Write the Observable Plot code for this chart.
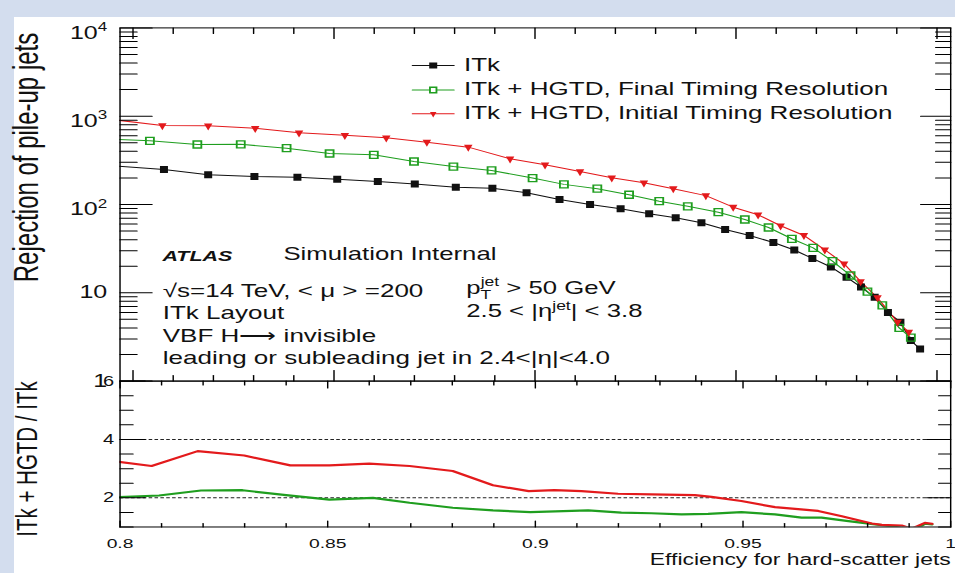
<!DOCTYPE html>
<html><head><meta charset="utf-8">
<script src="https://cdn.jsdelivr.net/npm/d3@7"></script>
<script src="https://cdn.jsdelivr.net/npm/@observablehq/plot@0.6"></script>
<style>
html,body{margin:0;padding:0;background:#d3ddee;width:955px;height:573px;overflow:hidden}
#paper{position:absolute;left:14px;top:17px;width:941px;height:556px;background:#fff}
#stage{position:absolute;left:0;top:0;height:573px;transform-origin:0 0}
#stage svg{position:absolute;left:0;overflow:visible;max-width:none}
</style></head><body>
<div id="paper"></div>
<div id="stage"></div>
<script>
// ---------------- data ----------------
const seriesNames = ["ITk", "ITk + HGTD, Final Timing Resolution", "ITk + HGTD, Initial Timing Resolution"];

const itkEff = [0.7932, 0.8077, 0.8187, 0.8302, 0.8409, 0.8508, 0.8609, 0.8701, 0.8803, 0.8894, 0.8979, 0.9061, 0.9137, 0.9213, 0.9284, 0.9350, 0.9414, 0.9473, 0.9534, 0.9593, 0.9645, 0.9690, 0.9736, 0.9775, 0.9811, 0.9845, 0.9878, 0.9909, 0.9935, 0.9958];
const itkRej = [279, 249, 217, 208, 204, 193, 182, 171, 157, 153, 136, 114, 100, 89.4, 78.5, 70.7, 62.1, 52.1, 44.6, 37.1, 30.5, 24.5, 19.6, 15.0, 11.6, 8.9, 6.0, 4.65, 2.88, 2.31];

const finalEff = [0.7932, 0.8042, 0.8160, 0.8268, 0.8382, 0.8489, 0.8599, 0.8699, 0.8797, 0.8892, 0.8994, 0.9072, 0.9155, 0.9234, 0.9309, 0.9380, 0.9456, 0.9522, 0.9581, 0.9639, 0.9692, 0.9740, 0.9785, 0.9827, 0.9864, 0.9906, 0.9935];
const finalRej = [553, 526, 478, 480, 434, 378, 365, 307, 269, 243, 199, 169, 151, 129, 109, 95.4, 81.8, 67.6, 54.9, 40.9, 32.3, 22.8, 15.7, 10.3, 7.2, 4.0, 3.1];

const initialEff = [0.7932, 0.8073, 0.8187, 0.8304, 0.8413, 0.8527, 0.8630, 0.8731, 0.8834, 0.8938, 0.9025, 0.9112, 0.9191, 0.9271, 0.9344, 0.9425, 0.9493, 0.9555, 0.9611, 0.9669, 0.9721, 0.9769, 0.9810, 0.9852, 0.9902, 0.9930];
const initialRej = [934, 785, 780, 731, 649, 609, 569, 508, 446, 329, 282, 236, 201, 176, 151, 126, 93.2, 76.4, 57.4, 44.6, 30.7, 21.3, 13.4, 8.8, 4.65, 3.6];

const ratioInitialEff = [0.7932, 0.8076, 0.8187, 0.8299, 0.8410, 0.8504, 0.8600, 0.8697, 0.8801, 0.8898, 0.8984, 0.9046, 0.9111, 0.9199, 0.9279, 0.9384, 0.9424, 0.9496, 0.9577, 0.9681, 0.9738, 0.9810, 0.9834, 0.9882, 0.9906, 0.9938, 0.9955];
const ratioInitial = [3.35, 3.09, 3.60, 3.45, 3.11, 3.11, 3.17, 3.09, 2.92, 2.43, 2.23, 2.26, 2.23, 2.14, 2.12, 2.09, 2.03, 1.89, 1.68, 1.55, 1.37, 1.12, 1.07, 1.05, 0.94, 1.14, 1.11];
const ratioFinalEff = [0.7932, 0.8094, 0.8195, 0.8295, 0.8400, 0.8504, 0.8609, 0.8697, 0.8801, 0.8898, 0.8988, 0.9127, 0.9207, 0.9279, 0.9352, 0.9416, 0.9496, 0.9577, 0.9641, 0.9689, 0.9754, 0.9818, 0.9866, 0.9898, 0.9922, 0.9938, 0.9955];
const ratioFinal = [1.98, 2.08, 2.25, 2.26, 2.09, 1.94, 2.00, 1.83, 1.66, 1.57, 1.51, 1.57, 1.49, 1.47, 1.43, 1.45, 1.51, 1.43, 1.32, 1.32, 1.20, 1.09, 1.01, 0.92, 0.97, 1.11, 1.09];

const mainYTicks = [1, 10, 100, 1000, 10000];
const mainYTickLabels = ["1", "10", "10^{2}", "10^{3}", "10^{4}"];
const ratioYTicks = [2, 4, 6];
const ratioYTickLabels = ["2", "4", "6"];
const xTicks = [0.8, 0.85, 0.9, 0.95, 1];
const xTickLabels = ["0.8", "0.85", "0.9", "0.95", "1"];
const ratioRefLines = [2, 4];

const yTitleMain = "Rejection of pile-up jets";
const yTitleRatio = "ITk + HGTD / ITk";
const xTitle = "Efficiency for hard-scatter jets";
const atlasLabel = "ATLAS";
const statusLabel = "Simulation Internal";
const infoLines = ["√s=14 TeV, < μ > =200", "ITk Layout", "VBF H⟶ invisible", "leading or subleading jet in 2.4<|η|<4.0"];
const cutLines = ["p_{T}^{jet} > 50 GeV", "2.5 < |η^{jet}| < 3.8"];

// ---------------- layout ----------------
const S = 1.43;                 // horizontal stretch of the reference picture
const W = 955 / S;
const px = v => v / S;
const FONT = "'Liberation Sans', Arial, Helvetica, sans-serif";
const RED = "#e31a1c", GREEN = "#1f9e1f", BLACK = "#111";

const mML = px(119.3), mMR = W - px(950), mMT = 27.4, mH = 392, mMB = mH - 380.6;
const rTop = 360, rH = 213, rMT = 380.6 - rTop, rMB = rH - (526.5 - rTop);

const stage = document.getElementById("stage");
stage.style.width = W + "px";
stage.style.transform = `scaleX(${S})`;

const tickShape = {draw(ctx, l) { ctx.moveTo(0, 0); ctx.lineTo(0, -l); }};
const ticksY = (values, side, len) => Plot.vector(values, {y: d => d, frameAnchor: side, rotate: side === "left" ? 90 : -90, length: len, anchor: "start", shape: tickShape, stroke: "#000", strokeWidth: 1});
const ticksX = (values, side, len) => Plot.vector(values, {x: d => d, frameAnchor: side, rotate: side === "bottom" ? 0 : 180, length: len, anchor: "start", shape: tickShape, stroke: "#000", strokeWidth: 1});
const rectSym = (w, h) => ({draw(ctx) { ctx.moveTo(-w/2, -h/2); ctx.lineTo(w/2, -h/2); ctx.lineTo(w/2, h/2); ctx.lineTo(-w/2, h/2); ctx.closePath(); }});
const triSym = (w, h) => ({draw(ctx) { ctx.moveTo(-w/2, -h/3); ctx.lineTo(w/2, -h/3); ctx.lineTo(0, 2*h/3); ctx.closePath(); }});

const xMinor = d3.range(80, 101).filter(i => i % 5 !== 0).map(i => i / 100);
const logMinor = [1, 10, 100, 1000].flatMap(d => d3.range(2, 10).map(k => d * k));
const ratioMinor = d3.range(2, 13).map(i => i / 2).filter(v => !ratioYTicks.includes(v));

const itk = itkEff.map((e, i) => ({e, v: itkRej[i]}));
const fin = finalEff.map((e, i) => ({e, v: finalRej[i]}));
const ini = initialEff.map((e, i) => ({e, v: initialRej[i]}));
const rIni = ratioInitialEff.map((e, i) => ({e, v: ratioInitial[i]}));
const rFin = ratioFinalEff.map((e, i) => ({e, v: ratioFinal[i]}));

const styles = [
  {stroke: BLACK, sym: rectSym(px(8), 7), lsym: rectSym(px(8), 6), fill: BLACK, sw: 0},
  {stroke: GREEN, sym: rectSym(px(8), 7), lsym: rectSym(px(6.5), 5.5), fill: "none", sw: 1.3},
  {stroke: RED, sym: triSym(px(8.5), 7), lsym: triSym(px(6.5), 5.5), fill: RED, sw: 0}
];
const mainData = [itk, fin, ini];

// text anchored in real pixel coordinates (vertical centre of the glyphs)
const tl = (xReal, yReal, mt, ml) => ({frameAnchor: "top-left", dx: px(xReal) - ml, dy: yReal - mt, lineAnchor: "middle"});

// ---------------- main panel ----------------
const legendRows = [65, 89.5, 113.3];
const legendMarks = seriesNames.flatMap((name, i) => [
  Plot.vector([0], {...tl(432.5, legendRows[i], mMT, mML), rotate: 90, anchor: "middle", length: px(41.6), shape: tickShape, stroke: styles[i].stroke, strokeWidth: 1}),
  Plot.dot([0], {...tl(432.5, legendRows[i], mMT, mML), symbol: styles[i].lsym, fill: styles[i].fill === "none" ? "white" : styles[i].fill, stroke: styles[i].stroke, strokeWidth: styles[i].sw || 0.01}),
  Plot.text([name], {...tl(463.3, legendRows[i] + 5.2 - 0.32 * 18, mMT, mML), textAnchor: "start", fontSize: 18.2, fill: "#111"})
]);

const main = Plot.plot({
  width: W, height: mH,
  marginLeft: mML, marginRight: mMR, marginTop: mMT, marginBottom: mMB,
  style: {fontFamily: FONT, background: "transparent", overflow: "visible"},
  x: {domain: [0.79677, 1.00341], axis: null},
  y: {type: "log", domain: [1, 10000], axis: null},
  marks: [
    ...mainData.map((d, i) => Plot.line(d, {x: "e", y: "v", stroke: styles[i].stroke, strokeWidth: 1, clip: true})),
    ...mainData.map((d, i) => Plot.dot(d, {x: "e", y: "v", symbol: styles[i].sym, fill: styles[i].fill === "none" ? "white" : styles[i].fill, fillOpacity: styles[i].fill === "none" ? 0 : 1, stroke: styles[i].stroke, strokeWidth: styles[i].sw || 0.01, clip: true})),
    Plot.frame({stroke: "#000", strokeWidth: 1}),
    ticksY(mainYTicks, "left", px(32)), ticksY(logMinor, "left", px(17)),
    ticksY(mainYTicks, "right", px(30)), ticksY(logMinor, "right", px(15)),
    ticksX(xTicks, "bottom", 10.5), ticksX(xMinor, "bottom", 5.5),
    ticksX(xTicks, "top", 10.5), ticksX(xMinor, "top", 5.5),
    Plot.text(mainYTicks.slice(0, 2), {y: d => d, text: (d, i) => mainYTickLabels[i], frameAnchor: "left", dx: px(106.5 - 119.3), textAnchor: "end", lineAnchor: "middle", fontSize: 17.5, fill: "#111"}),
    Plot.text(mainYTicks.slice(2), {y: d => d, text: (d, i) => mainYTickLabels[i + 2], frameAnchor: "left", dx: px(106.5 - 119.3), dy: 5, textAnchor: "end", lineAnchor: "middle", fontSize: 17.5, fill: "#111"}),
    Plot.text([yTitleMain], {frameAnchor: "left", dx: px(26.5) - mML, dy: 157 - (mMT + 380.6) / 2, rotate: -90, textAnchor: "middle", lineAnchor: "middle", fontSize: 24, fill: "#111"}),
    ...legendMarks,
    Plot.text([atlasLabel], {...tl(161.7, 260 - 0.32 * 15, mMT, mML), textAnchor: "start", fontSize: 15, fontWeight: "bold", fontStyle: "italic", fill: "#111"}),
    Plot.text([statusLabel], {...tl(282.7, 260 - 0.32 * 18, mMT, mML), textAnchor: "start", fontSize: 18, fill: "#111"}),
    Plot.text([infoLines.join("\n")], {...tl(162, 293.3 - 0.71 * 18, mMT, mML), textAnchor: "start", lineAnchor: "top", lineHeight: 1.235, fontSize: 18.2, fill: "#111"}),
    Plot.text([cutLines[0]], {...tl(465.5, 293.3 - 0.32 * 18, mMT, mML), textAnchor: "start", fontSize: 18, fill: "#111"}),
    Plot.text([cutLines[1]], {...tl(465.5, 316.7 - 0.32 * 18, mMT, mML), textAnchor: "start", fontSize: 18, fill: "#111"})
  ]
});
main.style.top = "0px";
stage.appendChild(main);

// ---------------- ratio panel ----------------
const ratio = Plot.plot({
  width: W, height: rH,
  marginLeft: mML, marginRight: mMR, marginTop: rMT, marginBottom: rMB,
  style: {fontFamily: FONT, background: "transparent", overflow: "visible"},
  x: {domain: [0.8, 1.0], axis: null},
  y: {domain: [1, 6], axis: null},
  marks: [
    Plot.ruleY(ratioRefLines, {stroke: "#222", strokeWidth: 1, strokeDasharray: "2.5,1.6"}),
    Plot.line(rFin, {x: "e", y: "v", stroke: GREEN, strokeWidth: 2.2, clip: true}),
    Plot.line(rIni, {x: "e", y: "v", stroke: RED, strokeWidth: 2.2, clip: true}),
    Plot.frame({stroke: "#000", strokeWidth: 1}),
    ticksY(ratioYTicks, "left", px(25)), ticksY(ratioMinor, "left", px(13)),
    ticksY(ratioYTicks, "right", px(24)), ticksY(ratioMinor, "right", px(12)),
    ticksX(xTicks, "top", 7), ticksX(xMinor, "top", 4),
    ticksX(xTicks, "bottom", 6), ticksX(xMinor, "bottom", 3.5),
    Plot.text(ratioYTicks, {y: d => d, text: (d, i) => ratioYTickLabels[i], frameAnchor: "left", dx: px(113.3 - 119.3), textAnchor: "end", lineAnchor: "middle", fontSize: 14, fill: "#111"}),
    Plot.text(xTicks, {x: d => d, text: (d, i) => xTickLabels[i], frameAnchor: "bottom", dy: 16.5, textAnchor: "middle", lineAnchor: "middle", fontSize: 13.5, fill: "#111"}),
    Plot.text([xTitle], {frameAnchor: "bottom-right", dy: 565 - 0.32 * 16 - 526.5, textAnchor: "end", lineAnchor: "middle", fontSize: 16, fill: "#111"}),
    Plot.text([yTitleRatio], {frameAnchor: "left", dx: px(27.3) - mML, dy: 458.5 - rTop - (rMT + (526.5 - rTop)) / 2, rotate: -90, textAnchor: "middle", lineAnchor: "middle", fontSize: 20.5, fill: "#111"})
  ]
});
ratio.style.top = rTop + "px";
stage.appendChild(ratio);

// ---------------- rich text (super/subscripts) ----------------
function richify(root) {
  root.querySelectorAll("text").forEach(t => {
    const s = t.textContent;
    if (!/[\^_]\{/.test(s)) return;
    const fs = parseFloat(getComputedStyle(t).fontSize) || 16;
    while (t.firstChild) t.removeChild(t.firstChild);
    const re = /([\^_])\{([^}]*)\}|([^\^_]+)/g;
    let m, shift = 0, subW = 0;
    while ((m = re.exec(s))) {
      const ts = document.createElementNS("http://www.w3.org/2000/svg", "tspan");
      if (m[3] !== undefined) {
        ts.textContent = m[3];
        ts.setAttribute("dy", -shift);
        shift = 0; subW = 0;
      } else {
        const sup = m[1] === "^";
        const small = fs * 0.68;
        const target = sup ? -0.42 * fs : 0.3 * fs;
        ts.setAttribute("font-size", small);
        ts.setAttribute("dy", target - shift);
        if (sup && subW) ts.setAttribute("dx", -subW);
        shift = target;
        subW = sup ? 0 : small * 0.6 * m[2].length;
        ts.textContent = m[2];
      }
      t.appendChild(ts);
    }
  });
}
richify(main);
richify(ratio);
</script>
</body></html>
